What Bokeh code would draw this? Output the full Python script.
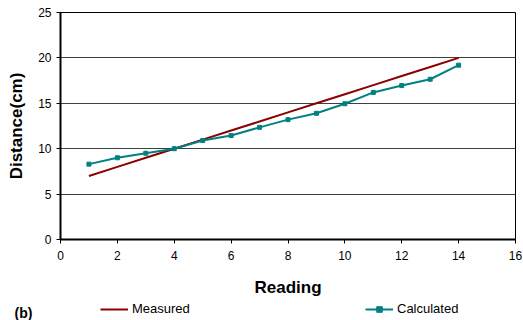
from bokeh.plotting import figure
from bokeh.layouts import column
from bokeh.models import Range1d, FixedTicker, Legend, LegendItem, LinearAxis
from bokeh.embed import file_html
from bokeh.resources import INLINE

# Data
readings = [1, 2, 3, 4, 5, 6, 7, 8, 9, 10, 11, 12, 13, 14]
measured = [7.0, 8.0, 9.0, 10.0, 11.0, 12.0, 13.0, 14.0, 15.0, 16.0, 17.0, 18.0, 19.0, 20.0]
calculated = [8.3, 9.0, 9.5, 10.0, 10.9, 11.45, 12.35, 13.2, 13.9, 14.95, 16.2, 16.95, 17.65, 19.2]
x_ticks = [0, 2, 4, 6, 8, 10, 12, 14, 16]
y_ticks = [0, 5, 10, 15, 20, 25]
panel_label = "(b)"

FONT = "Liberation Sans"
RED = "#8B0000"
TEAL = "#008080"

p = figure(width=523, height=300, output_backend="svg", toolbar_location=None,
           x_range=Range1d(0, 16), y_range=Range1d(0, 25),
           min_border_left=60, min_border_right=8, min_border_top=12, min_border_bottom=61)

p.outline_line_color = "black"
p.outline_line_width = 1
p.xgrid.visible = False
p.ygrid.ticker = FixedTicker(ticks=[5, 10, 15, 20])
p.ygrid.grid_line_color = "#404040"
p.ygrid.grid_line_width = 1

for ax, ticks in ((p.xaxis, x_ticks), (p.yaxis, y_ticks)):
    ax.ticker = FixedTicker(ticks=ticks)
    ax.axis_line_color = "black"
    ax.axis_line_width = 2
    ax.major_tick_line_color = "black"
    ax.major_tick_out = 4
    ax.major_tick_in = 0
    ax.minor_tick_line_color = None
    ax.major_label_text_font = FONT
    ax.major_label_text_font_size = "12px"
    ax.major_label_text_color = "black"
    ax.axis_label_text_font = FONT
    ax.axis_label_text_font_size = "17px"
    ax.axis_label_text_font_style = "bold"
    ax.axis_label_text_color = "black"

p.xaxis.axis_label = "Reading"
p.xaxis.major_label_standoff = 7
p.xaxis.axis_label_standoff = 15
p.yaxis.axis_label = "Distance(cm)"
p.yaxis.major_label_standoff = 5
p.yaxis.axis_label_standoff = 9

p.line(readings, measured, line_color=RED, line_width=2)
p.line(readings, calculated, line_color=TEAL, line_width=2)
p.scatter(readings, calculated, marker="square", size=4, fill_color=TEAL, line_color=TEAL)

# Legend strip below the chart (frame aligned with the chart's frame)
p2 = figure(width=523, height=20, output_backend="svg", toolbar_location=None,
            x_range=Range1d(0, 16), y_range=Range1d(0, 20),
            x_axis_type=None, y_axis_type=None,
            min_border_left=60, min_border_right=8, min_border_top=0, min_border_bottom=0)
p2.outline_line_color = None
p2.grid.visible = False

lab_axis = LinearAxis(ticker=FixedTicker(ticks=[8]), major_label_overrides={8: panel_label},
                      axis_line_color=None, major_tick_line_color=None, minor_tick_line_color=None,
                      major_tick_out=0, major_tick_in=0, major_label_standoff=28,
                      major_label_text_font=FONT, major_label_text_font_size="14px",
                      major_label_text_font_style="bold", major_label_text_color="black")
p2.add_layout(lab_axis, "left")

l_meas = p2.line(readings, measured, line_color=RED, line_width=2, visible=False)
l_calc = p2.line(readings, calculated, line_color=TEAL, line_width=2, visible=False)
l_calc_pts = p2.scatter(readings, calculated, marker="square", size=4,
                        fill_color=TEAL, line_color=TEAL, visible=False)

def make_legend(items, x, y):
    lg = Legend(items=items, location=(x, y), orientation="horizontal",
                border_line_color=None, background_fill_alpha=0,
                padding=0, margin=0, glyph_width=28, glyph_height=14,
                label_standoff=4, label_text_font=FONT, label_text_font_size="13px",
                label_text_color="black", label_height=14)
    p2.add_layout(lg, "center")

make_legend([LegendItem(label="Measured", renderers=[l_meas])], 40, 4)
make_legend([LegendItem(label="Calculated", renderers=[l_calc, l_calc_pts])], 305, 4)

open("out.html", "w").write(file_html(column(p, p2, spacing=0), INLINE))
